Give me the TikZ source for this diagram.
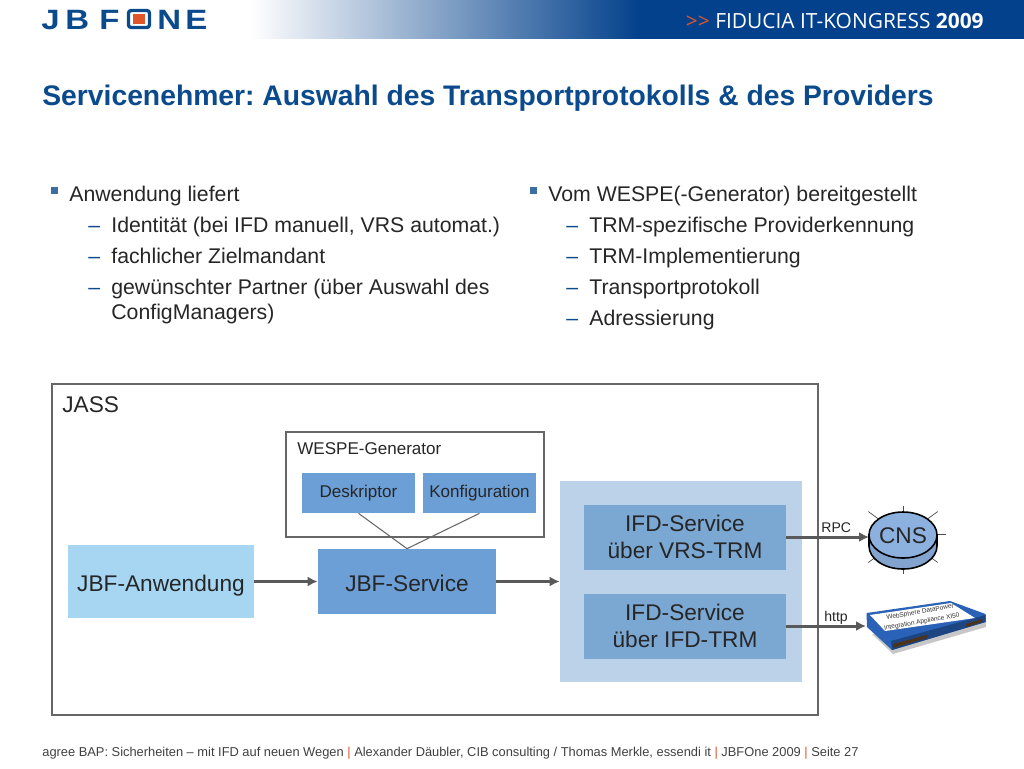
\documentclass[tikz,border=0pt]{standalone}
\usepackage{fontspec}
\setmainfont{Liberation Sans}
\newfontfamily\kongressfont{Open Sans}
\usetikzlibrary{arrows.meta,shapes.geometric}
\definecolor{jbfblue}{HTML}{0B4A8C}
\definecolor{bandblue}{HTML}{03418C}
\definecolor{boxblue}{HTML}{6C9FD6}
\definecolor{ifdblue}{HTML}{7BA7D3}
\definecolor{paleblue}{HTML}{A6D6F2}
\definecolor{backblue}{HTML}{BBD2E8}
\definecolor{framegray}{HTML}{666666}
\definecolor{arrowgray}{HTML}{595959}
\definecolor{accent}{HTML}{E0552A}
\definecolor{diskblue}{HTML}{8DB1DF}
\definecolor{dpblue}{HTML}{2A62B8}
\frenchspacing
\tikzset{
	bodytext/.style={anchor=base west, inner sep=0pt, font=\fontsize{12.1}{14.6}\selectfont, text=black!85},
	dashmark/.style={anchor=base west, inner sep=0pt, font=\fontsize{12.1}{14.6}\selectfont, text=jbfblue},
	bigbox/.style={inner sep=0pt, align=center, text=black!85, font=\fontsize{12.9}{15.6}\selectfont},
	onerow/.style={text height=11pt, text depth=0pt},
	smallbox/.style={inner sep=0pt, fill=boxblue, minimum width=2.26cm, minimum height=0.8cm, text=black!85, font=\fontsize{9.7}{11}\selectfont},
	flow/.style={draw=arrowgray, line width=1.7pt, -{Latex[length=2mm,width=2mm]}},
	logoletter/.style={inner sep=0pt, anchor=base west, text=jbfblue, font=\fontsize{15.9}{16}\bfseries\selectfont, xscale=1.18}
}
\begin{document}
\begin{tikzpicture}[x=0.02cm, y=-0.02cm]
	%%%%% START %%%%%
	\useasboundingbox (0, 0) rectangle (1024, 768);

	% header
	\shade[left color=white, right color=bandblue, shading angle=90] (250, 0) rectangle (640, 38.5);
	\fill[bandblue] (639, 0) rectangle (1024, 38.5);
	\node[inner sep=0pt, anchor=base east, text=white, font=\fontsize{11.9}{14}\kongressfont\selectfont] (kongress) at (984, 28.5) {\textcolor{accent}{>>} FIDUCIA IT-KONGRESS \textbf{2009}};

	% logo
	\node[logoletter] (logoj) at (41, 29) {J};
	\node[logoletter] (logob) at (65, 29) {B};
	\node[logoletter] (logof) at (99, 29) {F};
	\draw[jbfblue, line width=1.9pt, rounded corners=1.5pt] (128.5, 10.5) rectangle (149.5, 27.5);
	\fill[accent] (133, 14) rectangle (145, 24);
	\node[logoletter] (logon) at (157, 29) {N};
	\node[logoletter] (logoe) at (185, 29) {E};

	% title
	\node[inner sep=0pt, anchor=base west, text=jbfblue, font=\fontsize{16.1}{18}\bfseries\selectfont] (title) at (42, 105) {Servicenehmer: Auswahl des Transportprotokolls \& des Providers};

	% left column
	\fill[jbfblue!80] (51, 187) rectangle (58, 194);
	\node[bodytext] (anw) at (69, 201) {Anwendung liefert};
	\node[dashmark] (d1) at (88, 232) {--};
	\node[bodytext] (anw1) at (111, 232) {Identität (bei IFD manuell, VRS automat.)};
	\node[dashmark] (d2) at (88, 263) {--};
	\node[bodytext] (anw2) at (111, 263) {fachlicher Zielmandant};
	\node[dashmark] (d3) at (88, 294) {--};
	\node[bodytext] (anw3) at (111, 294) {gewünschter Partner (über Auswahl des};
	\node[bodytext] (anw4) at (111, 319) {ConfigManagers)};

	% right column
	\fill[jbfblue!80] (530, 187) rectangle (537, 194);
	\node[bodytext] (wes) at (548, 201) {Vom WESPE(-Generator) bereitgestellt};
	\node[dashmark] (e1) at (566, 232) {--};
	\node[bodytext] (wes1) at (589, 232) {TRM-spezifische Providerkennung};
	\node[dashmark] (e2) at (566, 263) {--};
	\node[bodytext] (wes2) at (589, 263) {TRM-Implementierung};
	\node[dashmark] (e3) at (566, 294) {--};
	\node[bodytext] (wes3) at (589, 294) {Transportprotokoll};
	\node[dashmark] (e4) at (566, 325) {--};
	\node[bodytext] (wes4) at (589, 325) {Adressierung};

	% JASS frame
	\node[draw=framegray, line width=0.75pt, minimum width=15.32cm, minimum height=6.62cm, inner sep=0pt] (jass) at (435, 549.5) {};
	\node[inner sep=0pt, anchor=base west, text=black!85, font=\fontsize{12.9}{15}\selectfont] (jasslabel) at (62, 412) {JASS};

	% WESPE
	\node[draw=framegray, line width=0.7pt, minimum width=5.16cm, minimum height=2.1cm, inner sep=0pt] (wespe) at (415, 484.5) {};
	\node[inner sep=0pt, anchor=base west, text=black!85, font=\fontsize{9.7}{11}\selectfont] (wespelabel) at (297, 454) {WESPE-Generator};
	\node[smallbox] (desk) at (358.5, 493) {Deskriptor};
	\node[smallbox] (konf) at (479.5, 493) {Konfiguration};

	% boxes
	\node[bigbox, onerow, fill=paleblue, minimum width=3.72cm, minimum height=1.46cm] (anwendung) at (161, 581.5) {JBF-Anwendung};
	\node[bigbox, onerow, fill=boxblue, minimum width=3.56cm, minimum height=1.3cm] (service) at (407, 581.5) {JBF-Service};
	\node[fill=backblue, minimum width=4.84cm, minimum height=4.02cm, inner sep=0pt] (back) at (681, 581.5) {};
	\node[bigbox, fill=ifdblue, minimum width=4.04cm, minimum height=1.3cm] (ifdvrs) at (685, 537) {IFD-Service\\über VRS-TRM};
	\node[bigbox, fill=ifdblue, minimum width=4.04cm, minimum height=1.3cm] (ifdtrm) at (685, 626) {IFD-Service\\über IFD-TRM};

	% CNS
	\foreach \a in {45,135,225,315}
		\draw[black!70, line width=0.4pt] (903, 537) -- ++(\a:49 and 36);
	\draw[black!70, line width=0.4pt] (903, 534) -- (946, 534);
	\draw[black!70, line width=0.4pt] (903, 506) -- (903, 574);
	\draw[black, line width=0.9pt, fill=diskblue!92!black] (869, 535) -- (869, 546) arc (180:0:34 and 23) -- (937, 535) -- cycle;
	\draw[black, line width=0.9pt, fill=diskblue] (903, 535) ellipse (34 and 23);
	\node[inner sep=0pt, text=black!85, font=\fontsize{12.9}{15}\selectfont] (cns) at (903, 536) {CNS};
	\coordinate (cnsin) at (869, 537);

	% appliance
	\fill[black!22] (872, 634) -- (893, 654) -- (986, 627) -- (986, 618) -- cycle;
	\fill[dpblue] (866.5, 613) -- (950, 601) -- (985.5, 614) -- (985.5, 622) -- (892, 650) -- (867, 627) -- cycle;
	\fill[dpblue!70!black] (891, 641) -- (985.5, 615) -- (985.5, 622) -- (892, 650) -- cycle;
	\fill[black!60!brown] (893, 644) -- (927, 635) -- (927, 638) -- (893, 648) -- cycle;
	\fill[black!60!brown] (966, 624) -- (982, 619) -- (982, 622) -- (966, 627) -- cycle;
	\fill[white] (870, 615) -- (951, 603) -- (975, 618) -- (885, 631) -- cycle;
	\node[inner sep=0pt, align=center, rotate=10, text=black!80, font=\fontsize{3.7}{5.6}\selectfont] (dp) at (921, 617) {WebSphere DataPower\\Integration Appliance XI50};
	\coordinate (dpin) at (866, 626);

	% connectors
	\draw[flow] (anwendung.east) -- (service.west);
	\draw[flow] (service.east) -- (back.west);
	\draw[flow] (ifdvrs.east) -- (cnsin);
	\draw[flow] (ifdtrm.east) -- (dpin);
	\draw[framegray, line width=0.6pt] (desk.south) -- (service.north) -- (konf.south);
	\node[inner sep=0pt, anchor=base west, text=black!85, font=\fontsize{8}{9}\selectfont] (rpc) at (821, 532) {RPC};
	\node[inner sep=0pt, anchor=base west, text=black!85, font=\fontsize{8}{9}\selectfont] (http) at (824, 621) {http};

	% footer
	\node[inner sep=0pt, anchor=base west, text=black!75, font=\fontsize{7.32}{9}\selectfont] (foot) at (42, 756) {agree BAP: Sicherheiten -- mit IFD auf neuen Wegen \textcolor{accent}{|} Alexander Däubler, CIB consulting / Thomas Merkle, essendi it \textcolor{accent}{|} JBFOne 2009 \textcolor{accent}{|} Seite 27};
	%%%%% END %%%%%
\end{tikzpicture}
\end{document}
